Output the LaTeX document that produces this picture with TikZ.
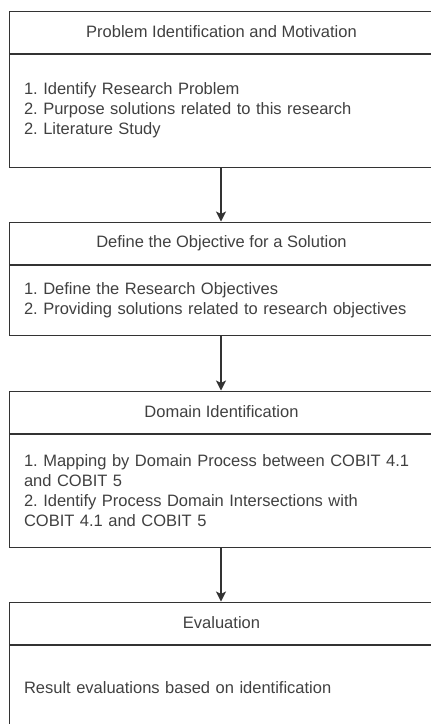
\documentclass[tikz,border=0pt]{standalone}
\usepackage{fontspec}
\setmainfont{Liberation Sans}
\usepackage{tikz}
\usetikzlibrary{shapes,arrows.meta,positioning}
\definecolor{linec}{rgb}{0.2, 0.2, 0.2}
\definecolor{textc}{rgb}{0.25, 0.25, 0.25}
\tikzstyle{head}=[draw=linec, line width=1pt, text=textc, minimum width=425pt, minimum height=42pt, inner sep=0pt, font=\fontsize{16.5}{20}\selectfont]
\tikzstyle{body}=[draw=linec, line width=1pt, text=textc, text width=395pt, inner xsep=15pt, inner ysep=0pt, align=left, font=\fontsize{16.5}{20}\selectfont]
\tikzstyle{flow}=[-{Stealth[length=10pt,width=10pt,inset=2.5pt]}, line width=1.2pt, linec]
\frenchspacing

\begin{document}
\begin{tikzpicture}[x=1pt, y=-1pt]
\useasboundingbox (0,0) rectangle (431,724);
\clip (0,0) rectangle (431,724);
\node[head] (h1) at (221.5,32) {Problem Identification and Motivation};
\node[body, minimum height=113pt, below=0pt of h1] (b1) {1. Identify Research Problem\\2. Purpose solutions related to this research\\2. Literature Study};
\node[head] (h2) at (221.5,243) {Define the Objective for a Solution};
\node[body, minimum height=70pt, below=0pt of h2] (b2) {1. Define the Research Objectives\\2. Providing solutions related to research objectives};
\node[head] (h3) at (221.5,412) {Domain Identification};
\node[body, minimum height=113pt, below=0pt of h3] (b3) {1. Mapping by Domain Process between COBIT 4.1\\and COBIT 5\\2. Identify Process Domain Intersections with\\COBIT 4.1 and COBIT 5};
\node[head] (h4) at (221.5,623) {Evaluation};
\node[body, minimum height=86pt, below=0pt of h4] (b4) {Result evaluations based on identification};
\draw[flow] (b1.south -| 221,0) -- (h2.north -| 221,0);
\draw[flow] (b2.south -| 221,0) -- (h3.north -| 221,0);
\draw[flow] (b3.south -| 221,0) -- (h4.north -| 221,0);
\end{tikzpicture}
\end{document}
